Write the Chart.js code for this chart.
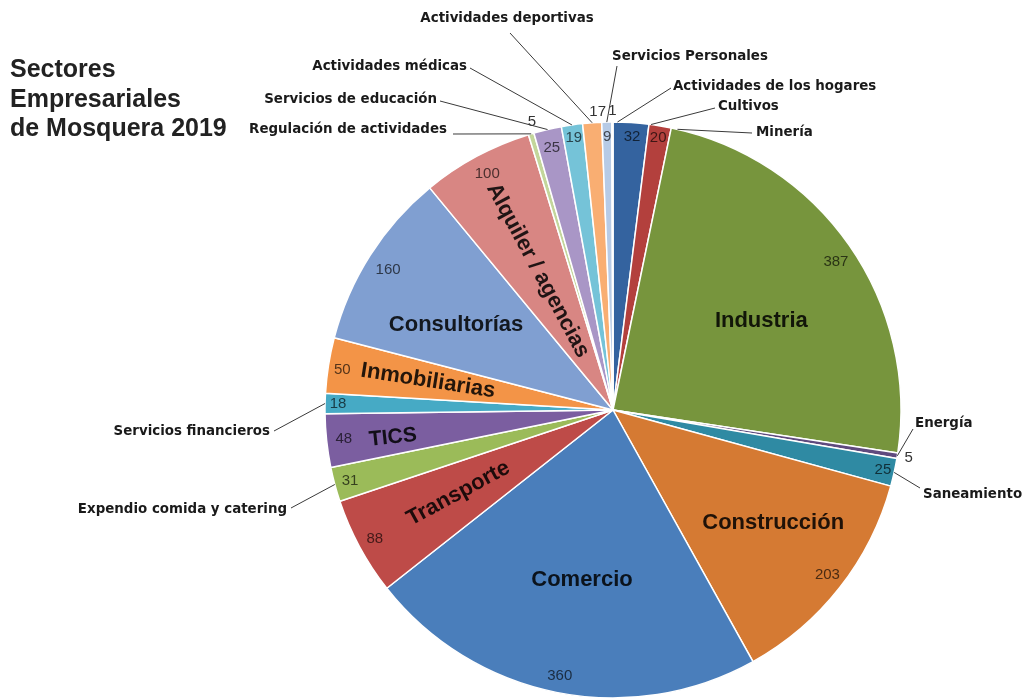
<!DOCTYPE html>
<html>
<head>
<meta charset="utf-8">
<title>Sectores Empresariales de Mosquera 2019</title>
<script src="https://cdn.jsdelivr.net/npm/chart.js@4"></script>
<style>
  html, body { margin: 0; padding: 0; background: #fff; overflow: hidden; }
  #wrap { position: relative; width: 1022px; height: 698px; }
  #title {
    position: absolute; left: 10px; top: 54px;
    font: bold 25px "Liberation Sans", Arial, sans-serif;
    line-height: 29.5px; color: #222;
  }
</style>
</head>
<body>
<div id="wrap">
  <canvas id="grafico" width="1022" height="698"></canvas>
  <div id="title">Sectores<br>Empresariales<br>de Mosquera 2019</div>
</div>
<script>
// Datos: numero de empresas por sector (en el orden de la torta, desde arriba y en sentido horario)
const categories = [
  'Cultivos', 'Minería', 'Industria', 'Energía', 'Saneamiento',
  'Construcción', 'Comercio', 'Transporte', 'Expendio comida y catering', 'TICS',
  'Servicios financieros', 'Inmobiliarias', 'Consultorías', 'Alquiler / agencias', 'Regulación de actividades',
  'Servicios de educación', 'Actividades médicas', 'Actividades deportivas', 'Servicios Personales', 'Actividades de los hogares'
];
const empresas = [32, 20, 387, 5, 25, 203, 360, 88, 31, 48, 18, 50, 160, 100, 5, 25, 19, 17, 9, 1];

// Colores de cada porcion
const sliceColors = [
  '#34639F', '#B3403D', '#77953D', '#5F4A7E', '#2F8AA3',
  '#D57A33', '#4A7EBB', '#BE4B48', '#9BBB59', '#7B5EA0',
  '#46AAC5', '#F39447', '#809FD1', '#D88683', '#C3D69B',
  '#A996C6', '#75C3D8', '#F9AE72', '#B7CBE6', '#E8BCBB'
];

// Donde va cada valor: fraccion del radio y corrimiento de angulo (grados)
const valueRadius = [0.95, 0.957, 0.93, 1.04, 0.96, 0.94, 0.94, 0.94, 0.945, 0.94,
                     0.955, 0.95, 0.92, 0.93, 1.04, 0.935, 0.955, 1.035, 0.95, 1.04];
const valueShift = [0.4, 0, 1.2, 0, 0, -0.5, 0, 0, 0, 0,
                    0, -0.5, -0.6, 0.3, 0.8, 0, 0, 1.2, 0, 0];

// Nombres dentro de la torta: r = fraccion del radio, da = corrimiento, rot = girar con el radio
const nameInside = {
  2:  { r: 0.60, da: 4,  rot: false },
  5:  { r: 0.68, da: -3, rot: false },
  6:  { r: 0.60, da: -1, rot: false },
  7:  { r: 0.61, da: 0,  rot: true },
  9:  { r: 0.77, da: -1, rot: true, size: 21 },
  11: { r: 0.65, da: 0,  rot: true },
  12: { r: 0.62, da: -4, rot: false },
  13: { r: 0.55, da: 0,  rot: true }
};

// Nombres fuera de la torta con linea guia: texto (x, y, align), inicio de linea (lx, ly), ea = corrimiento del final
const nameOutside = {
  0:  { x: 718, y: 107, align: 'left',   lx: 715, ly: 108, ea: 4 },
  1:  { x: 756, y: 133, align: 'left',   lx: 752, ly: 133, ea: 3.5 },
  3:  { x: 915, y: 424, align: 'left',   lx: 913, ly: 429, ea: 0 },
  4:  { x: 923, y: 495, align: 'left',   lx: 920, ly: 488, ea: 0 },
  8:  { x: 287, y: 510, align: 'right',  lx: 291, ly: 508, ea: 0 },
  10: { x: 270, y: 432, align: 'right',  lx: 274, ly: 431, ea: 0 },
  14: { x: 447, y: 130, align: 'right',  lx: 453, ly: 134, ea: 0 },
  15: { x: 437, y: 100, align: 'right',  lx: 440, ly: 101, ea: 0 },
  16: { x: 467, y: 67,  align: 'right',  lx: 470, ly: 68,  ea: 0 },
  17: { x: 507, y: 19,  align: 'center', lx: 510, ly: 33,  ea: 0 },
  18: { x: 612, y: 57,  align: 'left',   lx: 617, ly: 66,  ea: 0 },
  19: { x: 673, y: 87,  align: 'left',   lx: 671, ly: 88,  ea: 1 }
};

// Oscurece un color hex (f = 0..1)
function darken(hex, f) {
  const n = parseInt(hex.slice(1), 16);
  const r = Math.round(((n >> 16) & 255) * f);
  const g = Math.round(((n >> 8) & 255) * f);
  const b = Math.round((n & 255) * f);
  return `rgb(${r}, ${g}, ${b})`;
}

const DEG = Math.PI / 180;

// Plugin para etiquetas de valores, nombres y lineas guia
const etiquetas = {
  id: 'etiquetas',
  afterDatasetsDraw(chart) {
    const ctx = chart.ctx;
    const meta = chart.getDatasetMeta(0);

    meta.data.forEach((arc, i) => {
      const p = arc.getProps(['x', 'y', 'startAngle', 'endAngle', 'outerRadius'], true);
      const mid = (p.startAngle + p.endAngle) / 2;
      const color = sliceColors[i];

      // valor
      const va = mid + valueShift[i] * DEG;
      const vr = p.outerRadius * valueRadius[i];
      ctx.save();
      ctx.font = '15px "Liberation Sans", Arial, sans-serif';
      ctx.textAlign = 'center';
      ctx.textBaseline = 'middle';
      ctx.fillStyle = valueRadius[i] > 1 ? '#333' : darken(color, 0.35);
      ctx.fillText(String(empresas[i]), p.x + vr * Math.cos(va), p.y + vr * Math.sin(va));
      ctx.restore();

      // nombre dentro
      const ni = nameInside[i];
      if (ni) {
        const a = mid + ni.da * DEG;
        const r = p.outerRadius * ni.r;
        ctx.save();
        ctx.translate(p.x + r * Math.cos(a), p.y + r * Math.sin(a));
        if (ni.rot) ctx.rotate(mid - Math.PI);
        ctx.font = `bold ${ni.size || 22}px "Liberation Sans", Arial, sans-serif`;
        ctx.textAlign = 'center';
        ctx.textBaseline = 'middle';
        ctx.fillStyle = darken(color, 0.15);
        ctx.fillText(categories[i], 0, 0);
        ctx.restore();
      }

      // nombre fuera con linea guia
      const no = nameOutside[i];
      if (no) {
        const ea = mid + no.ea * DEG;
        ctx.save();
        ctx.strokeStyle = '#3a3a3a';
        ctx.lineWidth = 1;
        ctx.beginPath();
        ctx.moveTo(no.lx, no.ly);
        ctx.lineTo(p.x + p.outerRadius * Math.cos(ea), p.y + p.outerRadius * Math.sin(ea));
        ctx.stroke();
        ctx.font = 'bold 13.4px "DejaVu Sans", Verdana, sans-serif';
        ctx.textAlign = no.align;
        ctx.textBaseline = 'middle';
        ctx.fillStyle = '#1a1a1a';
        ctx.fillText(categories[i], no.x, no.y);
        ctx.restore();
      }
    });
  }
};

const ctx = document.getElementById('grafico').getContext('2d');
const grafico = new Chart(ctx, {
  type: 'pie',
  data: {
    labels: categories,
    datasets: [{
      label: 'Empresas',
      data: empresas,
      backgroundColor: sliceColors,
      borderColor: '#ffffff',
      borderWidth: 1.5,
      hoverOffset: 0,
      radius: 288
    }]
  },
  options: {
    responsive: false,
    animation: false,
    layout: {
      padding: { left: 325, right: 121, top: 122, bottom: 0 }
    },
    plugins: {
      legend: { display: false },
      tooltip: { enabled: false }
    }
  },
  plugins: [etiquetas]
});
</script>
</body>
</html>
